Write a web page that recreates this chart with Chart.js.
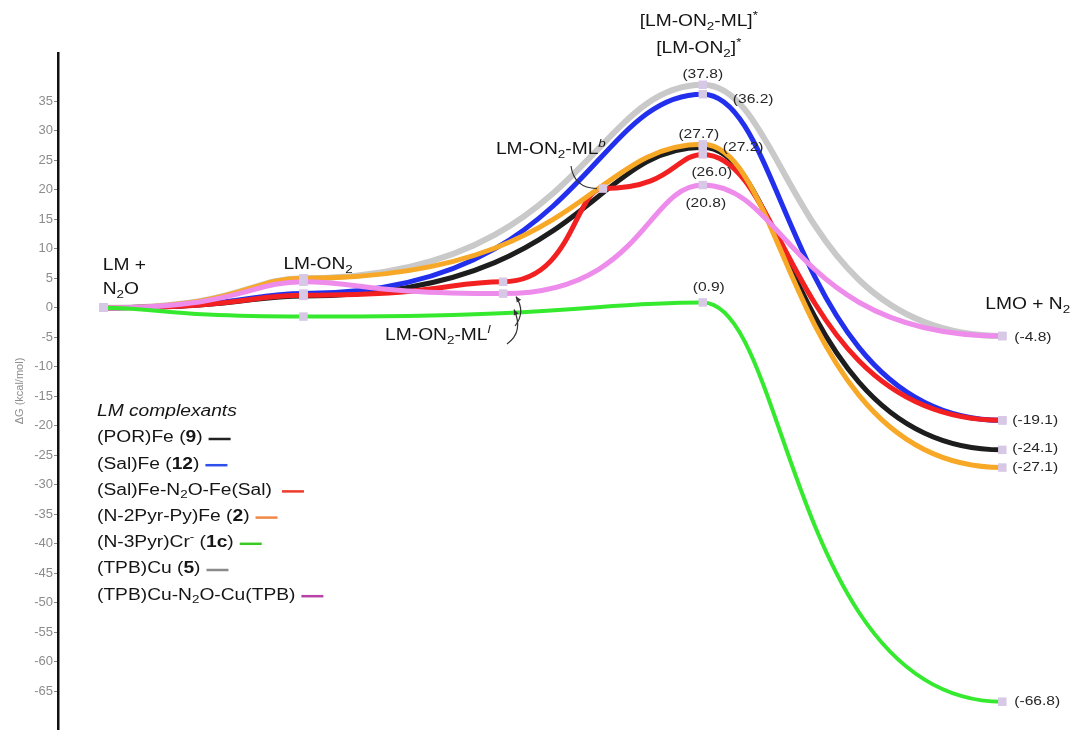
<!DOCTYPE html>
<html>
<head>
<meta charset="utf-8">
<title>Free energy profile</title>
<script src="https://cdn.jsdelivr.net/npm/chart.js@4.4.1/dist/chart.umd.min.js"></script>
<style>
  html, body { margin: 0; padding: 0; background: #fff; }
  #wrap { position: relative; width: 1070px; height: 735px; }
</style>
</head>
<body>
<div id="wrap"><canvas id="energy-chart"></canvas></div>
<script>
// reaction coordinate of each species:
// LM + N2O = 0, LM-ON2 = 2, LM-ON2-ML(l) = 4, LM-ON2-ML(b) = 5, TS = 6, LMO + N2 = 9
const xFour = [0, 2, 6, 9];
const xSalDimer = [0, 2, 4, 5, 6, 9];
const xCuDimer = [0, 2, 4, 6, 9];

// dG in kcal/mol
const porFe = [0, 2.0, 27.2, -24.1];
const salFe = [0, 2.4, 36.2, -19.1];
const salFeDimer = [0, 2.1, 4.4, 20.2, 26.0, -19.1];
const pyrFe = [0, 5.0, 27.7, -27.1];
const pyrCr = [0, -1.5, 0.9, -66.8];
const tpbCu = [0, 5.0, 37.8, -4.8];
const tpbCuDimer = [0, 4.4, 2.4, 20.8, -4.8];

const yTicks = [35, 30, 25, 20, 15, 10, 5, 0, -5, -10, -15, -20, -25, -30, -35, -40, -45, -50, -55, -60, -65];
const yMin = -71.43;
const yMax = 43.19;
const xMin = -0.458;
const xMax = 9.618;

const FONT = '"Liberation Sans", Arial, Helvetica, sans-serif';
const STRETCH = 1.2;

// curves, bottom to top in drawing order
const series = [
  { xs: xFour, ys: tpbCu, color: '#c9c9c9', width: 6, order: 7 },
  { xs: xFour, ys: porFe, color: '#1d1d1d', width: 5, order: 6 },
  { xs: xFour, ys: salFe, color: '#2230ee', width: 5, order: 5 },
  { xs: xSalDimer, ys: salFeDimer, color: '#f22020', width: 5, order: 4 },
  { xs: xFour, ys: pyrFe, color: '#f7a827', width: 5, order: 3 },
  { xs: xCuDimer, ys: tpbCuDimer, color: '#ee8cec', width: 5, order: 2 },
  { xs: xFour, ys: pyrCr, color: '#35ea2e', width: 4, order: 1 }
];

const legendRows = [
  { parts: [{ t: '(POR)Fe (' }, { t: '9', b: true }, { t: ')' }], color: '#222222' },
  { parts: [{ t: '(Sal)Fe (' }, { t: '12', b: true }, { t: ')' }], color: '#3050ee' },
  { parts: [{ t: '(Sal)Fe-N' }, { t: '2', sub: true }, { t: 'O-Fe(Sal)' }], color: '#ee3a2a', gap: 10 },
  { parts: [{ t: '(N-2Pyr-Py)Fe (' }, { t: '2', b: true }, { t: ')' }], color: '#f08848' },
  { parts: [{ t: '(N-3Pyr)Cr' }, { t: '-', sup: true }, { t: ' (' }, { t: '1c', b: true }, { t: ')' }], color: '#3cc825' },
  { parts: [{ t: '(TPB)Cu (' }, { t: '5', b: true }, { t: ')' }], color: '#8a8a8a' },
  { parts: [{ t: '(TPB)Cu-N' }, { t: '2', sub: true }, { t: 'O-Cu(TPB)' }], color: '#b843a8' }
];

function fontFor(p, size) {
  const s = (p.sub || p.sup) ? size * 0.7 : size;
  return (p.i ? 'italic ' : '') + (p.b ? 'bold ' : '') + s + 'px ' + FONT;
}

function drawRich(ctx, parts, x, y, size, align, color) {
  ctx.save();
  ctx.fillStyle = color || '#151515';
  ctx.textBaseline = 'middle';
  ctx.textAlign = 'left';
  let w = 0;
  parts.forEach(p => { ctx.font = fontFor(p, size); w += ctx.measureText(p.t).width; });
  let cx = align === 'center' ? -w / 2 : align === 'right' ? -w : 0;
  ctx.translate(x, y);
  ctx.scale(STRETCH, 1);
  parts.forEach(p => {
    ctx.font = fontFor(p, size);
    const dy = p.sub ? size * 0.3 : p.sup ? -size * 0.38 : 0;
    ctx.fillText(p.t, cx, dy);
    cx += ctx.measureText(p.t).width;
  });
  ctx.restore();
  return (align === 'center' ? w / 2 : w) * STRETCH;
}

function curvedArrow(ctx, x0, y0, cx, cy, x1, y1, head) {
  ctx.save();
  ctx.strokeStyle = '#333';
  ctx.fillStyle = '#333';
  ctx.lineWidth = 1.2;
  ctx.beginPath();
  ctx.moveTo(x0, y0);
  ctx.quadraticCurveTo(cx, cy, x1, y1);
  ctx.stroke();
  if (head) {
    const a = Math.atan2(y1 - cy, x1 - cx);
    ctx.beginPath();
    ctx.moveTo(x1, y1);
    ctx.lineTo(x1 - 6 * Math.cos(a - 0.45), y1 - 6 * Math.sin(a - 0.45));
    ctx.lineTo(x1 - 6 * Math.cos(a + 0.45), y1 - 6 * Math.sin(a + 0.45));
    ctx.closePath();
    ctx.fill();
  }
  ctx.restore();
}

// energy-diagram style curves: horizontal tangents at every species,
// short handle at the higher end of a segment, long one at the lower end
const HANDLE_HIGH = 0.28;
const HANDLE_LOW = 0.7;
const flatCurves = {
  id: 'flatCurves',
  beforeDatasetsDraw(chart) {
    chart.data.datasets.forEach((ds, i) => {
      if (ds.showLine === false) return;
      const meta = chart.getDatasetMeta(i);
      const line = meta.dataset;
      if (!line) return;
      line.updateControlPoints(chart.chartArea, 'x');
      const pts = meta.data;
      for (let k = 0; k < pts.length - 1; k++) {
        const p = pts[k], q = pts[k + 1];
        const w = q.x - p.x;
        const pHigh = p.y < q.y;
        p.cp2x = p.x + w * (pHigh ? HANDLE_HIGH : HANDLE_LOW);
        p.cp2y = p.y;
        q.cp1x = q.x - w * (pHigh ? HANDLE_LOW : HANDLE_HIGH);
        q.cp1y = q.y;
      }
      line._path = undefined;
    });
  }
};

const annotations = {
  id: 'annotations',
  afterDraw(chart) {
    const ctx = chart.ctx;
    const xs = chart.scales.x;
    const ys = chart.scales.y;
    const px = v => xs.getPixelForValue(v);
    const py = v => ys.getPixelForValue(v);

    // stage labels
    drawRich(ctx, [{ t: 'LM +' }], px(0) - 1, py(0) - 42, 16, 'left');
    drawRich(ctx, [{ t: 'N' }, { t: '2', sub: true }, { t: 'O' }], px(0) - 1, py(0) - 18, 16, 'left');
    drawRich(ctx, [{ t: 'LM-ON' }, { t: '2', sub: true }], px(2) - 20, py(0) - 43, 16, 'left');
    drawRich(ctx, [{ t: '[LM-ON' }, { t: '2', sub: true }, { t: '-ML]' }, { t: '*', sup: true }], px(6) - 4, 22, 16, 'center');
    drawRich(ctx, [{ t: '[LM-ON' }, { t: '2', sub: true }, { t: ']' }, { t: '*', sup: true }], px(6) - 4, 49, 16, 'center');
    drawRich(ctx, [{ t: 'LM-ON' }, { t: '2', sub: true }, { t: '-ML' }, { t: 'b', sup: true, i: true }], px(5) - 107, 150, 16, 'left');
    drawRich(ctx, [{ t: 'LM-ON' }, { t: '2', sub: true }, { t: '-ML' }, { t: 'l', sup: true, i: true }], px(4) - 118, py(0) + 28, 16, 'left');
    drawRich(ctx, [{ t: 'LMO + N' }, { t: '2', sub: true }], px(9) - 17, py(0) - 3, 16, 'left');

    // pointers to the intermediates
    curvedArrow(ctx, 571, 166, 574, 188, px(5) - 6, py(salFeDimer[3]), false);
    curvedArrow(ctx, 507, 344, 524, 332, 514, py(tpbCuDimer[2]) + 16, true);
    curvedArrow(ctx, 515, 326, 526, 312, 516, py(tpbCuDimer[2]) + 3, true);

    // energies
    const fmt = v => '(' + v.toFixed(1) + ')';
    const valueLabels = [
      { x: 6, v: tpbCu[2], dx: 0, dy: -10, align: 'center' },
      { x: 6, v: salFe[2], dx: 30, dy: 5, align: 'left' },
      { x: 6, v: pyrFe[2], dx: -4, dy: -10, align: 'center' },
      { x: 6, v: porFe[2], dx: 20, dy: 0, align: 'left' },
      { x: 6, v: salFeDimer[4], dx: 9, dy: 18, align: 'center' },
      { x: 6, v: tpbCuDimer[3], dx: 3, dy: 18, align: 'center' },
      { x: 6, v: pyrCr[2], dx: 6, dy: -15, align: 'center' },
      { x: 9, v: tpbCuDimer[4], dx: 12, dy: 1, align: 'left' },
      { x: 9, v: salFe[3], dx: 10, dy: 0, align: 'left' },
      { x: 9, v: porFe[3], dx: 10, dy: -1, align: 'left' },
      { x: 9, v: pyrFe[3], dx: 10, dy: 0, align: 'left' },
      { x: 9, v: pyrCr[3], dx: 12, dy: 0, align: 'left' }
    ];
    valueLabels.forEach(l => {
      drawRich(ctx, [{ t: fmt(l.v) }], px(l.x) + l.dx, py(l.v) + l.dy, 13, l.align, '#262626');
    });

    // legend
    const lx = 97;
    drawRich(ctx, [{ t: 'LM complexants', i: true }], lx, 412, 16, 'left');
    legendRows.forEach((row, k) => {
      const y = 438 + k * 26.2;
      const w = drawRich(ctx, row.parts, lx, y, 16, 'left');
      const sx = lx + w + (row.gap || 6);
      ctx.save();
      ctx.strokeStyle = row.color;
      ctx.lineWidth = 2.5;
      ctx.beginPath();
      ctx.moveTo(sx, y + 1);
      ctx.lineTo(sx + 22, y + 1);
      ctx.stroke();
      ctx.restore();
    });
  }
};

Chart.defaults.font.family = FONT;

const datasets = series.map(s => ({
  data: s.xs.map((x, i) => ({ x: x, y: s.ys[i] })),
  borderColor: s.color,
  borderWidth: s.width,
  pointRadius: 0,
  pointHoverRadius: 0,
  tension: 0.4,
  fill: false,
  order: s.order
}));

// species markers on top of every curve
datasets.push({
  data: series.flatMap(s => s.xs.map((x, i) => ({ x: x, y: s.ys[i] }))),
  showLine: false,
  pointStyle: 'rect',
  pointRadius: 6,
  pointBackgroundColor: '#d7c8e6',
  pointBorderWidth: 0,
  order: 0
});

new Chart(document.getElementById('energy-chart'), {
  type: 'line',
  data: { datasets: datasets },
  options: {
    responsive: true,
    maintainAspectRatio: false,
    animation: false,
    devicePixelRatio: 1,
    layout: { padding: { top: 53, right: 0, bottom: 0, left: 0 } },
    plugins: {
      legend: { display: false },
      tooltip: { enabled: false }
    },
    scales: {
      x: { type: 'linear', min: xMin, max: xMax, display: false },
      y: {
        type: 'linear',
        min: yMin,
        max: yMax,
        afterBuildTicks: s => { s.ticks = yTicks.map(v => ({ value: v })); },
        afterFit: s => { s.width = 58; s.paddingTop = 0; s.paddingBottom = 0; },
        border: { display: true, color: '#111', width: 2.5 },
        grid: { drawOnChartArea: false, drawTicks: true, tickLength: 4, tickColor: '#888', tickWidth: 1 },
        ticks: { color: '#8c8c8c', font: { size: 13 }, padding: 1 },
        title: {
          display: true,
          text: 'ΔG (kcal/mol)',
          color: '#8c8c8c',
          font: { size: 11 },
          padding: { top: 13, bottom: 0 }
        }
      }
    }
  },
  plugins: [flatCurves, annotations]
});
</script>
</body>
</html>
